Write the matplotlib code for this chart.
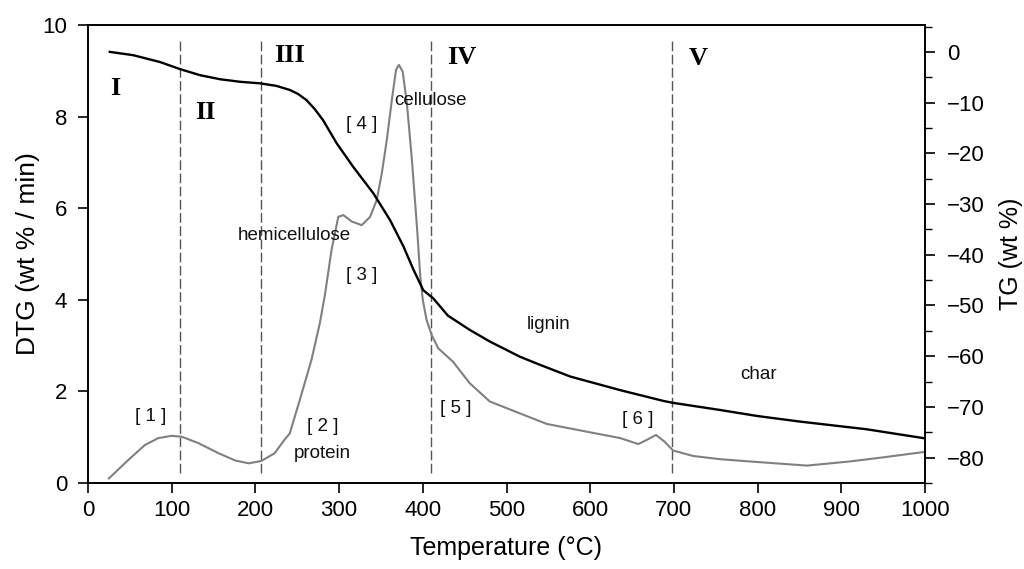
import matplotlib
matplotlib.use("Agg")
import matplotlib.pyplot as plt
from matplotlib.ticker import MultipleLocator

# ---- data ----
dtg_T = [25, 48, 68, 84, 100, 112, 132, 156, 176, 192, 207, 223, 235, 241, 253, 267,
         277, 283, 291, 299, 305, 315, 327, 337, 345, 351, 357, 363, 368, 371.5, 376,
         381, 387, 393, 397, 400, 404.5, 410.6, 418.5, 436, 456, 480, 516, 548, 596,
         636, 657.5, 667.5, 678.6, 689, 699, 723, 755, 791, 859, 910, 950, 1000]
dtg_v = [0.10, 0.50, 0.83, 0.98, 1.03, 1.01, 0.87, 0.65, 0.49, 0.43, 0.48, 0.65, 0.95, 1.08, 1.81, 2.69,
         3.49, 4.10, 5.09, 5.81, 5.85, 5.71, 5.63, 5.81, 6.18, 6.76, 7.49, 8.36, 9.02, 9.13, 8.98,
         8.29, 7.05, 5.60, 4.50, 4.00, 3.56, 3.23, 2.94, 2.65, 2.18, 1.78, 1.52, 1.29, 1.12,
         0.98, 0.85, 0.94, 1.05, 0.90, 0.71, 0.59, 0.52, 0.47, 0.38, 0.47, 0.56, 0.68]

tg_T = [26, 54, 86, 110, 134, 158, 182, 205.5, 225, 241, 251, 261, 271, 281, 297, 317, 341, 361, 377,
        389, 400.6, 412.5, 430, 456, 480, 516, 540, 576, 636, 687, 699, 755, 800, 851, 930, 1000]
tg_v = [0.0, -0.65, -2.0, -3.4, -4.6, -5.4, -5.9, -6.2, -6.7, -7.5, -8.3, -9.5, -11.3, -13.5, -18.0, -22.7,
        -27.9, -33.2, -38.4, -43.0, -47.0, -48.6, -52.0, -54.8, -57.1, -60.1, -61.7, -64.0, -66.7, -68.8,
        -69.2, -70.6, -71.8, -72.9, -74.4, -76.2]

stage_bounds = [110, 207, 410, 698]
stage_labels = ["I", "II", "III", "IV", "V"]
stage_pos = [(32, 8.62), (140, 8.10), (241, 9.34), (446, 9.30), (729, 9.27)]

notes = ["cellulose", "[ 4 ]", "hemicellulose", "[ 3 ]", "[ 1 ]", "[ 2 ]", "protein",
         "[ 5 ]", "lignin", "[ 6 ]", "char"]
notes_pos = [(409, 8.36), (327, 7.82), (247, 5.41), (327, 4.52), (75, 1.45), (281, 1.24),
             (280, 0.65), (439, 1.63), (550, 3.46), (657, 1.38), (801, 2.37)]

x_ticks = list(range(0, 1001, 100))
dtg_ticks = [0, 2, 4, 6, 8, 10]
tg_ticks = [0, -10, -20, -30, -40, -50, -60, -70, -80]

plt.rcParams['font.family'] = ['Liberation Sans', 'DejaVu Sans']

fig = plt.figure(figsize=(10.24, 5.69), dpi=100)
ax = fig.add_axes([88/1024, 1-483/569, (925-88)/1024, (483-25)/569])
ax2 = ax.twinx()

ax.plot(dtg_T, dtg_v, color='#808080', lw=1.5, zorder=3)
ax2.plot(tg_T, tg_v, color='black', lw=1.7, zorder=3)

for b in stage_bounds:
    ax.plot([b, b], [0.22, 9.67], color='#555555', lw=1.0, dashes=(7, 2.5), zorder=2)

for lab, (x, y) in zip(stage_labels, stage_pos):
    ax.text(x, y, lab, family='Liberation Serif', fontweight='bold', fontsize=19,
            ha='center', va='center')

for lab, (x, y) in zip(notes, notes_pos):
    ax.text(x, y, lab, fontsize=13.5, ha='center', va='center', color='#111111')

ax.set_xlim(0, 1000)
ax.set_ylim(0, 10)
ax2.set_ylim(-85, 5.3)
ax.set_xticks(x_ticks)
ax.set_yticks(dtg_ticks)
ax2.set_yticks(tg_ticks)
ax2.yaxis.set_minor_locator(MultipleLocator(5))

for a in (ax, ax2):
    a.tick_params(direction='out', length=7, width=1.2, labelsize=16)
    for s in a.spines.values():
        s.set_linewidth(1.2)
ax2.tick_params(which='minor', direction='out', length=5, width=1.0)
ax.tick_params(axis='x', pad=5)
ax.tick_params(axis='y', pad=8)
ax2.tick_params(axis='y', pad=9)

ax.set_xlabel('Temperature (°C)', fontsize=18, labelpad=11)
ax.set_ylabel('DTG (wt % / min)', fontsize=19, labelpad=2)
ax2.set_ylabel('TG (wt %)', fontsize=18, labelpad=10)

fig.savefig('out.png', dpi=100)
